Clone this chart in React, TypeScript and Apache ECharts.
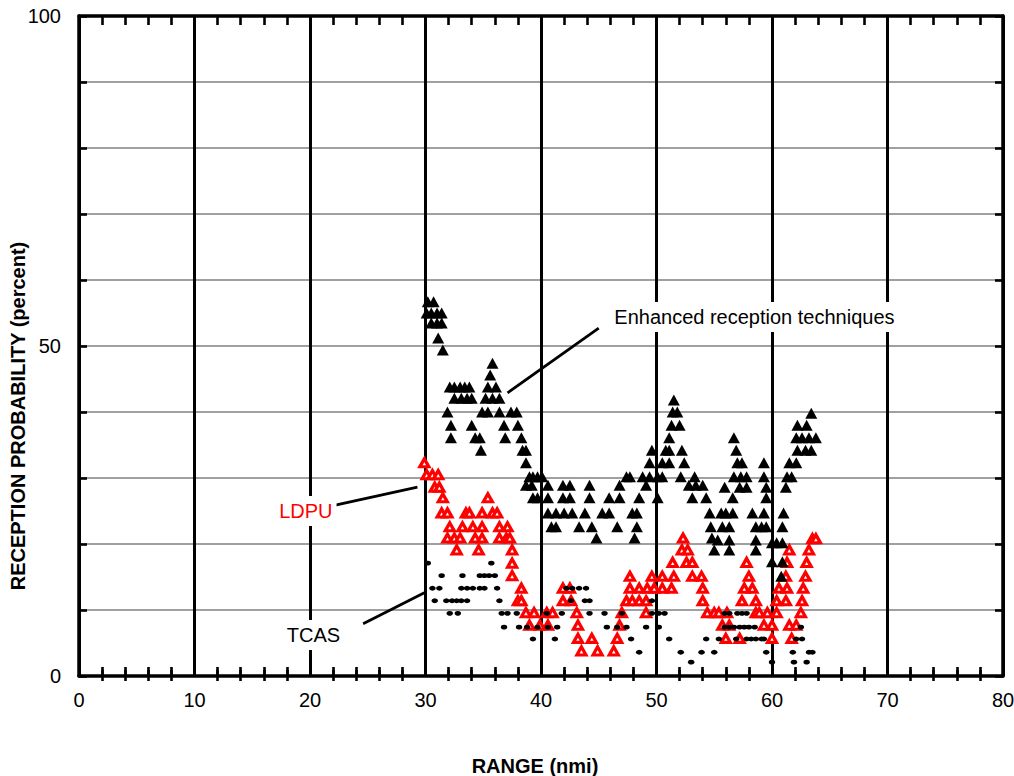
import React, { useEffect, useRef } from "react";
import * as echarts from "echarts";

// ---- axis ranges / labels ----
const X_MIN = 0;
const X_MAX = 80;
const X_STEP = 10;
const Y_MIN = 0;
const Y_MAX = 100;
const Y_STEP = 10;
const yLabelValues = [0, 50, 100];

const xTitle = "RANGE (nmi)";
const yTitle = "RECEPTION PROBABILITY (percent)";

// ---- series data: [range (nmi), reception probability (%)] ----
const enhanced: number[][] = [
  [30.2, 56.7], [30.7, 56.7],
  [30.1, 55.0], [30.5, 55.0], [31.0, 55.0], [31.4, 55.0],
  [30.5, 53.5], [31.0, 53.5], [31.4, 53.5],
  [31.1, 51.2], [31.5, 49.4],
  [32.1, 43.8], [32.5, 43.8], [33.0, 43.8], [33.4, 43.8], [33.8, 43.8],
  [32.5, 42.1], [33.1, 42.1], [33.6, 42.1], [34.0, 42.1],
  [31.9, 40.0], [32.2, 38.0], [32.2, 36.1], [34.0, 38.0], [34.3, 36.1], [34.7, 36.1], [34.8, 34.2],
  [35.8, 47.4], [35.6, 45.6], [35.4, 43.8], [36.1, 43.8], [35.2, 42.1], [35.8, 42.1], [36.4, 42.1],
  [34.9, 40.0], [35.4, 40.0], [36.4, 40.0], [37.4, 40.0], [37.9, 40.0],
  [36.8, 38.0], [38.0, 38.0], [36.9, 36.1], [38.3, 36.1], [38.4, 34.2], [38.7, 34.2], [38.7, 32.3],
  [39.0, 30.2], [39.3, 30.2], [39.7, 30.2], [40.1, 30.2],
  [38.7, 28.9], [39.2, 28.9], [40.6, 28.9],
  [39.3, 27.0], [39.7, 27.0], [40.6, 27.0],
  [40.6, 24.7], [41.3, 24.7], [42.0, 24.7], [42.7, 24.7], [40.9, 22.6], [41.3, 22.6],
  [41.9, 28.9], [42.5, 28.9], [41.9, 27.0], [42.5, 27.0], [44.2, 28.9], [44.2, 27.0],
  [43.8, 24.7], [43.3, 22.6], [44.4, 22.6], [44.8, 20.9], [45.3, 24.7], [45.9, 24.7],
  [45.9, 27.0], [46.8, 27.0], [46.6, 22.6], [46.8, 28.9], [47.4, 30.2], [47.7, 30.2],
  [47.9, 24.7], [48.3, 24.7], [48.1, 20.9], [48.3, 22.6], [48.5, 27.0], [48.8, 30.2],
  [49.1, 28.9], [49.4, 30.2], [49.4, 32.3], [49.6, 34.2],
  [50.1, 27.0], [50.1, 30.2], [50.5, 30.2], [50.5, 32.3], [50.8, 34.2], [51.1, 34.2], [51.1, 32.3],
  [51.1, 36.1], [51.3, 38.0], [52.0, 38.0], [51.4, 40.0], [51.8, 40.0], [51.5, 41.8],
  [52.2, 34.2], [52.4, 32.3], [52.1, 30.2],
  [52.8, 28.9], [53.4, 28.9], [54.0, 28.9], [53.3, 30.2], [53.1, 27.0], [54.3, 27.0],
  [54.6, 24.7], [54.7, 22.6], [54.8, 20.9], [55.0, 19.1],
  [55.6, 24.7], [56.0, 24.7], [56.6, 24.7], [55.7, 22.6], [56.3, 22.6], [55.3, 20.6], [56.3, 20.6], [56.3, 19.1],
  [55.9, 28.6], [56.6, 27.0],
  [56.7, 36.1], [56.9, 34.2], [57.0, 32.3], [57.4, 32.3], [56.7, 30.2], [57.3, 30.2], [57.8, 30.2],
  [57.2, 28.6], [57.8, 28.6], [58.3, 24.7], [58.6, 22.6], [59.1, 22.6], [59.5, 22.6], [58.6, 20.6], [58.6, 19.1],
  [59.3, 24.7], [59.3, 32.3], [59.3, 30.2], [59.5, 28.6], [59.5, 27.0],
  [60.0, 20.2], [60.4, 20.2], [60.9, 20.2], [60.0, 17.3], [60.9, 17.3], [60.8, 15.1],
  [61.0, 24.7], [60.9, 22.6], [61.2, 28.6], [61.3, 30.2],
  [63.4, 39.8], [62.2, 38.0], [63.0, 38.0], [62.1, 36.1], [62.6, 36.1], [63.2, 36.1], [63.8, 36.1],
  [62.2, 34.2], [62.9, 34.2], [63.4, 34.2], [61.5, 32.3], [62.1, 32.3], [61.7, 30.2],
];

const ldpu: number[][] = [
  [29.9, 32.3],
  [30.1, 30.5], [30.6, 30.5], [31.1, 30.5],
  [30.8, 28.6], [31.2, 28.6], [31.5, 27.0],
  [31.4, 24.7], [31.9, 24.7], [33.5, 24.7], [33.8, 24.7], [34.9, 24.7], [35.8, 24.7], [36.2, 24.7],
  [32.1, 22.6], [33.2, 22.6], [34.1, 22.6], [34.9, 22.6], [36.4, 22.6], [37.1, 22.6],
  [31.9, 20.9], [32.5, 20.9], [33.0, 20.9], [34.3, 20.9], [34.9, 20.9], [36.4, 20.9], [37.0, 20.9], [37.3, 20.9],
  [32.7, 19.1], [34.6, 19.1], [37.5, 19.1],
  [35.4, 27.0],
  [37.5, 17.1], [37.5, 15.2], [38.3, 13.3], [38.0, 11.4], [38.3, 11.4],
  [38.7, 9.6], [39.4, 9.6], [40.5, 9.6], [41.0, 9.6], [43.1, 9.6], [47.0, 9.6], [49.1, 9.6],
  [54.4, 9.6], [55.0, 9.6], [55.4, 9.6], [56.1, 9.6], [58.6, 9.6], [58.9, 9.6], [59.6, 9.6], [60.4, 9.6], [62.5, 9.6],
  [39.0, 7.7], [39.9, 7.7], [40.6, 7.7], [43.2, 7.7], [46.8, 7.7], [55.7, 7.7], [56.3, 7.7],
  [59.3, 7.7], [60.0, 7.7], [61.5, 7.7], [62.1, 7.7],
  [43.2, 5.7], [44.4, 5.7], [46.6, 5.7], [56.0, 5.7], [57.2, 5.7], [60.0, 5.7], [61.7, 5.7],
  [43.5, 3.8], [44.9, 3.8], [46.3, 3.8],
  [41.9, 13.3], [42.5, 13.3], [47.7, 13.3], [48.5, 13.3], [49.2, 13.3], [49.8, 13.3], [50.5, 13.3],
  [51.3, 13.3], [54.0, 13.3], [57.6, 13.3], [58.3, 13.3], [60.6, 13.3], [61.3, 13.3], [62.7, 13.3],
  [41.9, 11.4], [42.6, 11.4], [47.4, 11.4], [47.9, 11.4], [48.5, 11.4], [49.1, 11.4], [54.0, 11.4],
  [57.4, 11.4], [58.6, 11.4], [60.4, 11.4], [61.2, 11.4], [62.6, 11.4],
  [47.7, 15.1], [49.6, 15.1], [50.5, 15.1], [51.5, 15.1], [53.1, 15.1], [53.9, 15.1],
  [58.0, 15.1], [61.2, 15.1], [62.9, 15.1],
  [51.4, 17.2], [52.6, 17.2], [53.1, 17.2], [57.8, 17.2], [61.3, 17.2], [63.0, 17.2],
  [52.2, 19.1], [52.7, 19.1], [61.5, 19.1], [63.2, 19.1],
  [52.3, 20.9], [63.5, 20.8], [63.8, 20.8],
];

const tcas: number[][] = [
  [30.2, 17.1], [35.7, 17.1],
  [31.4, 15.2], [33.2, 15.2], [34.7, 15.2], [35.1, 15.2], [35.5, 15.2], [36.0, 15.2],
  [30.6, 13.3], [31.2, 13.3], [33.1, 13.3], [33.6, 13.3], [34.1, 13.3], [34.7, 13.3], [35.1, 13.3], [36.2, 13.3],
  [42.2, 13.3], [42.7, 13.3], [43.3, 13.3], [43.9, 13.3],
  [30.8, 11.4], [31.8, 11.4], [32.3, 11.4], [32.7, 11.4], [33.1, 11.4], [33.6, 11.4], [36.4, 11.4],
  [42.6, 11.4], [43.8, 11.4], [44.2, 11.4], [49.6, 11.4],
  [32.1, 9.5], [32.8, 9.5], [36.6, 9.5], [37.1, 9.5], [37.9, 9.5], [40.5, 9.5], [41.8, 9.5],
  [44.2, 9.5], [45.5, 9.5], [47.0, 9.5], [49.6, 9.5], [50.2, 9.5], [50.7, 9.5],
  [55.9, 9.5], [56.3, 9.5], [57.0, 9.5], [57.4, 9.5], [57.8, 9.5],
  [36.8, 7.4], [38.1, 7.4], [38.8, 7.4], [39.7, 7.4], [40.6, 7.4], [41.4, 7.4], [45.7, 7.4], [46.6, 7.4],
  [47.4, 7.4], [49.1, 7.4], [50.2, 7.4], [55.9, 7.4], [56.3, 7.4], [56.7, 7.4], [57.2, 7.4], [57.6, 7.4],
  [58.0, 7.4], [58.5, 7.4], [62.5, 7.4],
  [39.3, 5.6], [41.2, 5.6], [47.8, 5.6], [51.1, 5.6], [54.3, 5.6], [55.4, 5.6], [56.9, 5.6], [57.8, 5.6],
  [58.2, 5.6], [58.6, 5.6], [59.1, 5.6], [59.3, 5.6], [62.1, 5.6], [62.6, 5.6],
  [48.5, 3.6], [52.1, 3.6], [53.9, 3.6], [55.0, 3.6], [59.5, 3.6], [61.8, 3.6], [63.2, 3.6], [63.5, 3.6],
  [53.0, 2.1], [60.0, 2.1], [61.9, 2.1], [63.0, 2.1],
];

// ---- annotations (anchored in data units) ----
const annotationTexts = [
  { text: "Enhanced reception techniques", at: [46.0, 54.4], align: "left", color: "#000000" },
  { text: "LDPU", at: [22.3, 25.0], align: "right", color: "#ff0000" },
  { text: "TCAS", at: [20.3, 6.2], align: "center", color: "#000000" },
];
const annotationLines = [
  [[45.0, 52.7], [37.1, 42.9]],
  [[22.0, 25.8], [29.3, 28.6]],
  [[24.6, 7.9], [29.9, 12.6]],
];

const FONT = '"Liberation Sans", Arial, Helvetica, sans-serif';

export default function App() {
  const ref = useRef<HTMLDivElement>(null);

  useEffect(() => {
    if (!ref.current) return;
    const chart = echarts.init(ref.current, null, { renderer: "svg" });

    const baseX: any = {
      type: "value",
      min: X_MIN,
      max: X_MAX,
      interval: X_STEP,
      splitLine: { show: false },
      axisLabel: { show: false },
      axisLine: { show: false },
      axisTick: { show: false },
    };
    const tickStyle = { color: "#000", width: 2.6 };
    const axisLineStyle = { color: "#000", width: 3.5 };

    const option: any = {
      animation: false,
      backgroundColor: "#ffffff",
      grid: { left: 79, right: 11, top: 16, bottom: 100, outerBoundsMode: "none", containLabel: false },
      xAxis: [
        {
          ...baseX,
          position: "bottom",
          axisLine: { show: true, onZero: false, lineStyle: axisLineStyle },
          axisTick: { show: false, inside: true },
          minorTick: { show: true, splitNumber: 5, length: 9, lineStyle: tickStyle },
          axisLabel: { show: true, color: "#000", fontSize: 20, fontFamily: FONT, margin: 14 },
          splitLine: { show: true, lineStyle: { color: "#000", width: 3 } },
        },
        {
          ...baseX,
          position: "bottom",
          axisTick: { show: false, inside: false },
          minorTick: { show: true, splitNumber: 5, length: 5, lineStyle: tickStyle },
        },
        {
          ...baseX,
          position: "top",
          axisLine: { show: true, onZero: false, lineStyle: axisLineStyle },
          axisTick: { show: false, inside: true },
          minorTick: { show: true, splitNumber: 5, length: 9, lineStyle: tickStyle },
        },
        {
          ...baseX,
          position: "top",
          axisTick: { show: false, inside: false },
          minorTick: { show: true, splitNumber: 5, length: 6, lineStyle: tickStyle },
        },
      ],
      yAxis: [
        {
          type: "value",
          position: "left",
          min: Y_MIN,
          max: Y_MAX,
          interval: Y_STEP,
          axisLine: { show: true, onZero: false, lineStyle: axisLineStyle },
          axisTick: { show: true, inside: true, length: 8, lineStyle: tickStyle },
          axisLabel: {
            show: true,
            color: "#000",
            fontSize: 20,
            fontFamily: FONT,
            margin: 18,
            formatter: (v: number) => (yLabelValues.includes(v) ? String(v) : ""),
          },
          splitLine: { show: true, lineStyle: { color: "#808080", width: 1.6 } },
        },
        {
          type: "value",
          position: "right",
          min: Y_MIN,
          max: Y_MAX,
          interval: Y_STEP,
          axisLine: { show: true, onZero: false, lineStyle: axisLineStyle },
          axisTick: { show: true, inside: true, length: 8, lineStyle: tickStyle },
          axisLabel: { show: false },
          splitLine: { show: false },
        },
      ],
      series: [
        {
          type: "scatter",
          name: "LDPU",
          data: ldpu,
          xAxisIndex: 0,
          yAxisIndex: 0,
          symbol: "triangle",
          symbolSize: [9, 8],
          itemStyle: { color: "#ffffff", borderColor: "#ff0000", borderWidth: 3.2, opacity: 1 },
          silent: true,
          z: 3,
        },
        {
          type: "scatter",
          name: "TCAS",
          data: tcas,
          xAxisIndex: 0,
          yAxisIndex: 0,
          symbol: "circle",
          symbolSize: [6.5, 4.8],
          itemStyle: { color: "#000000", opacity: 1 },
          silent: true,
          z: 4,
        },
        {
          type: "scatter",
          name: "Enhanced reception techniques",
          data: enhanced,
          xAxisIndex: 0,
          yAxisIndex: 0,
          symbol: "triangle",
          symbolSize: [12, 11],
          itemStyle: { color: "#000000", opacity: 1 },
          silent: true,
          z: 5,
        },
      ],
    };
    chart.setOption(option);

    const px = (p: number[]) => chart.convertToPixel({ seriesIndex: 0 }, p) as number[];
    const graphics: any[] = [];
    annotationLines.forEach((ln) => {
      const a = px(ln[0]);
      const b = px(ln[1]);
      graphics.push({
        type: "line",
        z: 60,
        shape: { x1: a[0], y1: a[1], x2: b[0], y2: b[1] },
        style: { stroke: "#000", lineWidth: 2.8 },
      });
    });
    annotationTexts.forEach((t) => {
      const p = px(t.at);
      graphics.push({
        type: "text",
        z: 61,
        x: p[0],
        y: p[1],
        style: {
          text: t.text,
          fill: t.color,
          font: `20px ${FONT}`,
          align: t.align,
          textAlign: t.align,
          verticalAlign: "middle",
          textVerticalAlign: "middle",
          backgroundColor: "#ffffff",
          padding: [5, 4],
        },
      });
    });
    // axis titles
    const bottomMid = px([(X_MIN + X_MAX) / 2, Y_MIN]);
    graphics.push({
      type: "text",
      z: 61,
      x: bottomMid[0] - 6,
      y: 766,
      style: {
        text: xTitle,
        fill: "#000",
        font: `bold 20px ${FONT}`,
        align: "center",
        textAlign: "center",
        verticalAlign: "middle",
        textVerticalAlign: "middle",
      },
    });
    graphics.push({
      type: "text",
      z: 61,
      x: 18,
      y: 416,
      rotation: Math.PI / 2,
      style: {
        text: yTitle,
        fill: "#000",
        font: `bold 20px ${FONT}`,
        align: "center",
        textAlign: "center",
        verticalAlign: "middle",
        textVerticalAlign: "middle",
      },
    });
    chart.setOption({ graphic: graphics });

    return () => chart.dispose();
  }, []);

  return (
    <div
      ref={ref}
      style={{ position: "fixed", left: 0, top: 0, width: 1014, height: 776, background: "#fff" }}
    />
  );
}
